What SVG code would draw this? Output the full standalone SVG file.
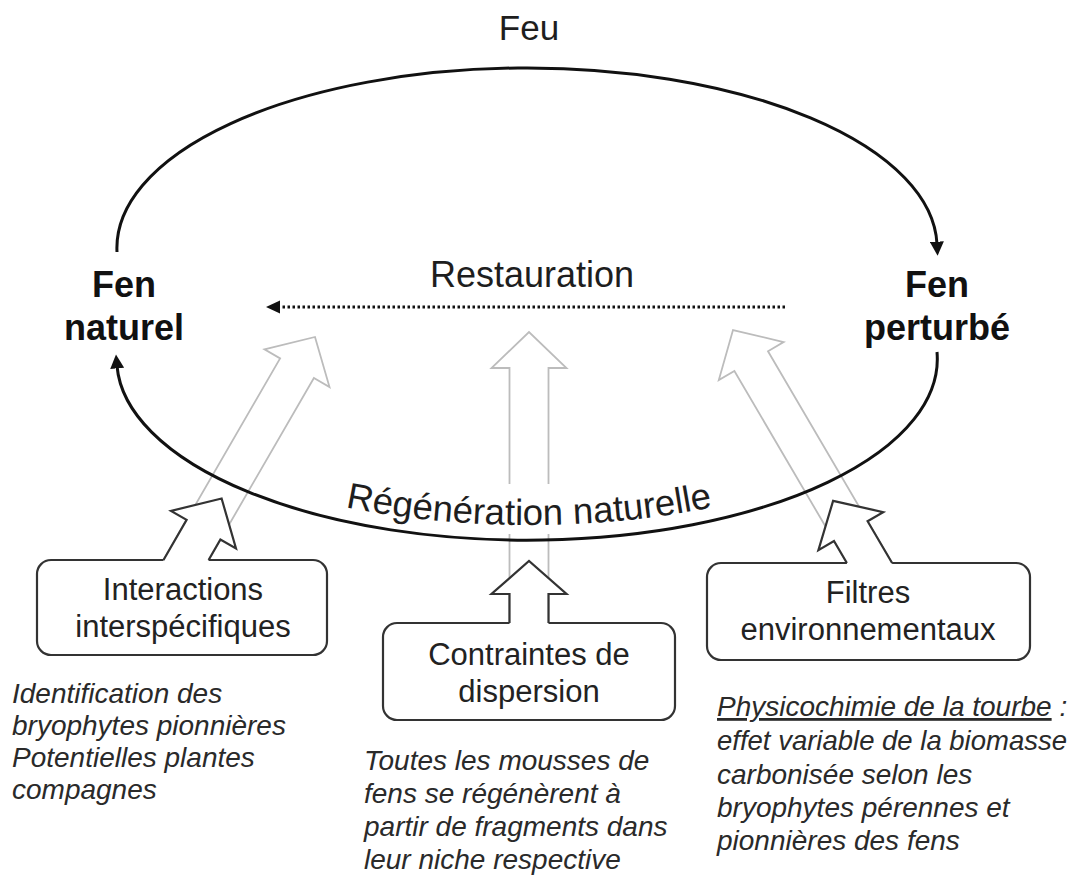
<svg xmlns="http://www.w3.org/2000/svg" width="1078" height="876" viewBox="0 0 1078 876">
  <style>
    text { font-family: "Liberation Sans", Arial, sans-serif; fill: #1e1e1e; }
    .title { font-size: 35px; text-anchor: middle; }
    .bold { font-size: 36px; font-weight: bold; text-anchor: middle; fill: #111; }
    .box-text { font-size: 31px; text-anchor: middle; fill: #222; }
    .note { font-size: 28px; font-style: italic; fill: #2a2a2a; }
    .box { fill: none; stroke: #333; stroke-width: 2.2; }
    .arc { fill: none; stroke: #111; stroke-width: 3; }
    .gray-arrow { fill: none; stroke: #bcbcbc; stroke-width: 1.8; stroke-linejoin: miter; }
    .dark-arrow { fill: #fff; stroke: #333; stroke-width: 2.2; stroke-linejoin: miter; }
    .dotted { fill: none; stroke: #111; stroke-width: 3; stroke-dasharray: 2.5 2.5; }
  </style>
  <defs>
    <marker id="head" markerUnits="userSpaceOnUse" markerWidth="14" markerHeight="14" viewBox="0 0 12 12" refX="2" refY="6" orient="auto">
      <path d="M0,0 L12,6 L0,12 z" fill="#111"/>
    </marker>
    <path id="regenPath" d="M 124 360 A 405 165 0 0 0 934 360"/>
  </defs>

  <rect width="1078" height="876" fill="#fff"/>

  <g id="connectors">
    <!-- light gray long arrows -->
    <path class="gray-arrow" d="M163.5,560 L280.1,358.4 L264.5,349.4 L315,337 L329.5,387 L313.9,378 L208.6,560"/>
    <path class="gray-arrow" d="M509.5,623 L509.5,368 L491.5,368 L529,332 L566.5,368 L548.5,368 L548.5,623"/>
    <path class="gray-arrow" d="M846.9,563 L734.4,371 L718.8,380.1 L733,330 L783.6,342.1 L768,351.2 L892.1,563"/>
    <!-- white band behind curved label -->
    <rect x="502" y="484" width="54" height="50" fill="#fff"/>
    <!-- Feu arc -->
    <path class="arc" d="M 117 252 A 410 180 0 0 1 937 244" marker-end="url(#head)"/>
    <!-- Régénération naturelle arc -->
    <path class="arc" d="M 937 352 A 410 181 0 0 1 117 366" marker-end="url(#head)"/>
    <!-- Restauration dotted arrow -->
    <path class="dotted" d="M 785 307 H 279"/>
    <polygon points="266,307 280,300.5 280,313.5" fill="#111"/>
    <!-- dark short arrows from boxes -->
    <path class="dark-arrow" d="M163.5,560 L186.6,519.9 L171,510.9 L221.6,498.5 L236,548.5 L220.4,539.5 L208.6,560"/>
    <path class="dark-arrow" d="M509.5,623 L509.5,594 L491.5,594 L529,561 L566.5,594 L548.5,594 L548.5,623"/>
    <path class="dark-arrow" d="M846.9,563 L834,541 L818.4,550.1 L833.1,500.9 L883.2,512.1 L867.6,521.2 L892.1,563"/>
  </g>

  <g id="label-feu">
    <text class="title" x="529" y="40">Feu</text>
  </g>
  <g id="label-restauration">
    <text class="title" x="532" y="287" style="font-size:36px">Restauration</text>
  </g>
  <g id="label-regeneration">
    <text style="font-size:36.5px"><textPath href="#regenPath" startOffset="50%" text-anchor="middle">Régénération naturelle</textPath></text>
  </g>

  <g id="node-fen-naturel">
    <text class="bold" x="124" y="297">Fen</text>
    <text class="bold" x="124" y="340">naturel</text>
  </g>
  <g id="node-fen-perturbe">
    <text class="bold" x="937" y="297">Fen</text>
    <text class="bold" x="937" y="340">perturbé</text>
  </g>

  <g id="node-interactions">
    <path class="box" d="M 208.6 560 H 313 A 14 14 0 0 1 327 574 V 641 A 14 14 0 0 1 313 655 H 51 A 14 14 0 0 1 37 641 V 574 A 14 14 0 0 1 51 560 H 163.5"/>
    <text class="box-text" x="183" y="600">Interactions</text>
    <text class="box-text" x="183" y="637">interspécifiques</text>
  </g>
  <g id="node-contraintes">
    <path class="box" d="M 548.5 623 H 661 A 14 14 0 0 1 675 637 V 706 A 14 14 0 0 1 661 720 H 397 A 14 14 0 0 1 383 706 V 637 A 14 14 0 0 1 397 623 H 509.5"/>
    <text class="box-text" x="529" y="665">Contraintes de</text>
    <text class="box-text" x="529" y="702">dispersion</text>
  </g>
  <g id="node-filtres">
    <path class="box" d="M 892.1 563 H 1016 A 14 14 0 0 1 1030 577 V 646 A 14 14 0 0 1 1016 660 H 721 A 14 14 0 0 1 707 646 V 577 A 14 14 0 0 1 721 563 H 846.9"/>
    <text class="box-text" x="868" y="603">Filtres</text>
    <text class="box-text" x="868" y="640">environnementaux</text>
  </g>

  <g id="note-interactions">
    <text class="note" x="12" y="703">Identification des</text>
    <text class="note" x="12" y="735">bryophytes pionnières</text>
    <text class="note" x="12" y="767">Potentielles plantes</text>
    <text class="note" x="12" y="799">compagnes</text>
  </g>
  <g id="note-contraintes">
    <text class="note" x="364" y="770">Toutes les mousses de</text>
    <text class="note" x="364" y="803">fens se régénèrent à</text>
    <text class="note" x="364" y="836">partir de fragments dans</text>
    <text class="note" x="364" y="869">leur niche respective</text>
  </g>
  <g id="note-filtres">
    <text class="note" x="717" y="716"><tspan text-decoration="underline">Physicochimie de la tourbe</tspan> :</text>
    <text class="note" x="717" y="750" textLength="350" lengthAdjust="spacingAndGlyphs">effet variable de la biomasse</text>
    <text class="note" x="717" y="784">carbonisée selon les</text>
    <text class="note" x="717" y="817">bryophytes pérennes et</text>
    <text class="note" x="717" y="850">pionnières des fens</text>
  </g>
</svg>
